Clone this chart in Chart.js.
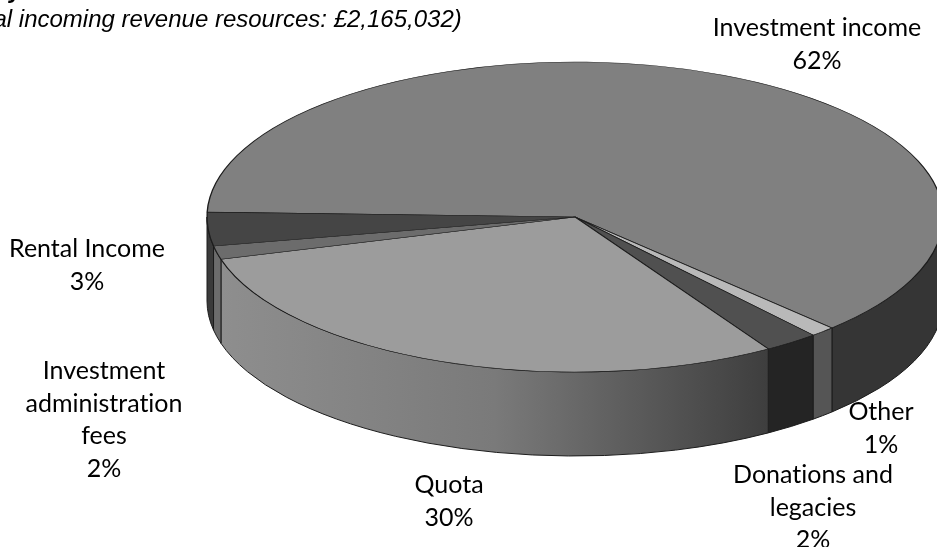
<!DOCTYPE html>
<html>
<head>
<meta charset="utf-8">
<title>Incoming revenue resources</title>
<script src="https://cdn.jsdelivr.net/npm/chart.js@4"></script>
<style>
  html, body { margin: 0; padding: 0; background: #fff; overflow: hidden; }
  #box { width: 937px; height: 547px; }
</style>
</head>
<body>
<div id="box"><canvas id="myChart" width="937" height="547"></canvas></div>
<script>
// slices go clockwise starting from the left edge of the pie
const categories = [
  ['Investment income'],
  ['Other'],
  ['Donations and', 'legacies'],
  ['Quota'],
  ['Investment', 'administration', 'fees'],
  ['Rental Income']
];
const sliceShares = [62.2, 1.1, 2.4, 29.4, 1.4, 3.5];
const percentLabels = ['62%', '1%', '2%', '30%', '2%', '3%'];

const topColors = ['#808080', '#b9b9b9', '#505050', '#9c9c9c', '#6c6c6c', '#454545'];
const sideColors = ['#353535', '#555555', '#242424', null, '#6c6c6c', '#3a3a3a'];
const quotaSideStops = ['#8e8e8e', '#7a7a7a', '#3e3e3e'];

// where the flattened pie ends up on the page
const pieCenterX = 575;
const pieCenterY = 217;
const pieRadiusX = 368;
const pieRadiusY = 155;
const pieDepth = 84;
const startDegrees = 181.8;

const labelCenters = [[817, 28], [881, 412], [813, 475], [449, 485], [104, 371], [87, 249]];
const lineHeight = 32.5;

// draws the rim below the front half of the pie
function drawSides(ctx, arcs) {
  arcs.forEach((arc, i) => {
    const { startAngle, endAngle } = arc.getProps(['startAngle', 'endAngle'], true);
    for (let k = 0; k < 2; k++) {
      const from = Math.max(startAngle, k * 2 * Math.PI);
      const to = Math.min(endAngle, k * 2 * Math.PI + Math.PI);
      if (to <= from) continue;
      ctx.beginPath();
      ctx.ellipse(pieCenterX, pieCenterY, pieRadiusX, pieRadiusY, 0, from, to);
      ctx.ellipse(pieCenterX, pieCenterY + pieDepth, pieRadiusX, pieRadiusY, 0, to, from, true);
      ctx.closePath();
      if (sideColors[i]) {
        ctx.fillStyle = sideColors[i];
      } else {
        const left = pieCenterX + pieRadiusX * Math.cos(to);
        const right = pieCenterX + pieRadiusX * Math.cos(from);
        const grad = ctx.createLinearGradient(left, 0, right, 0);
        quotaSideStops.forEach((c, n) => grad.addColorStop(n / (quotaSideStops.length - 1), c));
        ctx.fillStyle = grad;
      }
      ctx.fill();
      ctx.strokeStyle = '#1c1c1c';
      ctx.lineWidth = 1;
      ctx.stroke();
    }
  });
}

const flatPie = {
  id: 'flatPie',
  beforeDatasetsDraw(chart) {
    const ctx = chart.ctx;
    const arcs = chart.getDatasetMeta(0).data;
    drawSides(ctx, arcs);
    const { x, y, outerRadius } = arcs[0].getProps(['x', 'y', 'outerRadius'], true);
    ctx.save();
    ctx.translate(pieCenterX, pieCenterY);
    ctx.scale(pieRadiusX / outerRadius, pieRadiusY / outerRadius);
    ctx.translate(-x, -y);
  },
  afterDatasetsDraw(chart) {
    chart.ctx.restore();
  }
};

const pageText = {
  id: 'pageText',
  afterDraw(chart) {
    const ctx = chart.ctx;
    ctx.save();
    ctx.fillStyle = '#000';
    ctx.textBaseline = 'middle';
    ctx.textAlign = 'center';
    ctx.textRendering = 'optimizeSpeed';  // no "ti" ligature
    ctx.font = '25px Lato';
    categories.forEach((lines, i) => {
      const all = lines.concat(percentLabels[i]);
      all.forEach((line, n) => {
        ctx.fillText(line, labelCenters[i][0], labelCenters[i][1] + n * lineHeight);
      });
    });
    // the heading runs off the top left of the picture
    ctx.textAlign = 'left';
    ctx.textBaseline = 'alphabetic';
    ctx.font = 'italic 24px "Liberation Sans"';
    ctx.fillText('(Total incoming revenue resources: £2,165,032)', -47, 27);
    ctx.font = 'italic bold 24px "Liberation Sans"';
    ctx.fillText('y', 9, -2);
    ctx.restore();
  }
};

const chart = new Chart(document.getElementById('myChart').getContext('2d'), {
  type: 'pie',
  data: {
    labels: categories,
    datasets: [{
      data: sliceShares,
      backgroundColor: topColors,
      borderColor: '#1c1c1c',
      borderWidth: 1,
      clip: false
    }]
  },
  options: {
    responsive: false,
    animation: false,
    rotation: startDegrees + 90,
    layout: { padding: 0 },
    plugins: {
      legend: { display: false },
      title: { display: false },
      tooltip: { enabled: false }
    }
  },
  plugins: [flatPie, pageText]
});
</script>
</body>
</html>
